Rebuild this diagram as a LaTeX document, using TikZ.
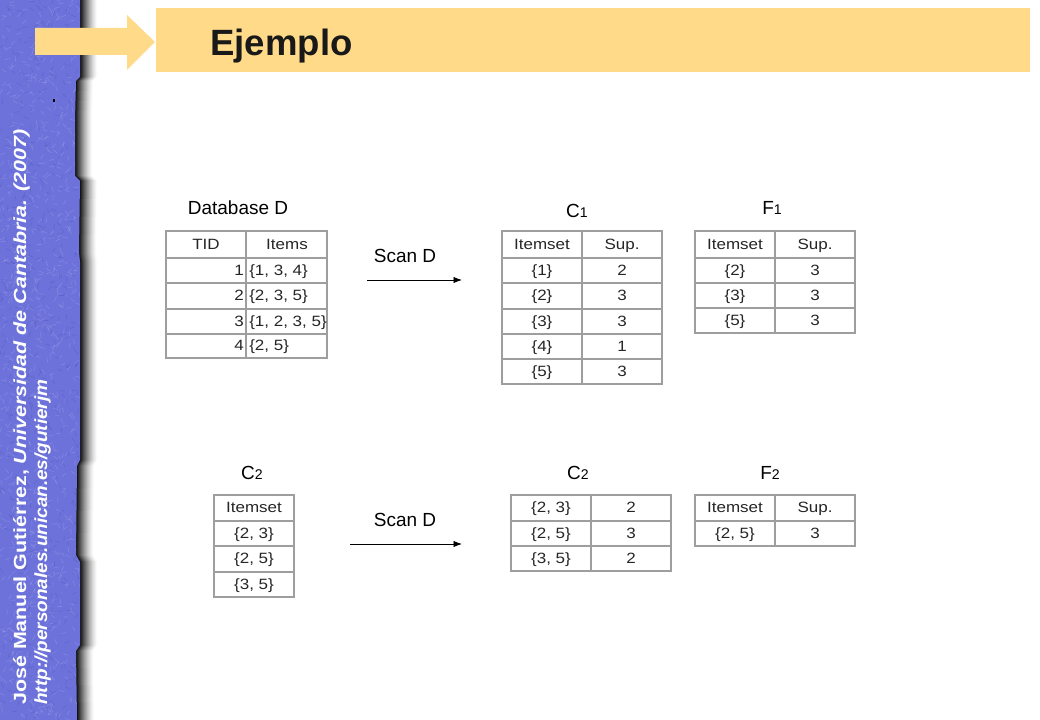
\documentclass[tikz,border=0pt]{standalone}
\usepackage{fontspec}
\usepackage{graphicx}
\setmainfont{Liberation Sans}
\newfontfamily\tblfont[FakeStretch=1.14]{Liberation Sans}
\usetikzlibrary{arrows.meta}
\definecolor{barblue}{RGB}{108,114,218}
\definecolor{titlebg}{RGB}{255,218,136}
\begin{document}
\begin{tikzpicture}[x=0.025cm,y=-0.025cm,
  lbl/.style={font=\fontsize{13.5}{16}\selectfont, inner sep=0pt},
  cell/.style={font=\tblfont\fontsize{10.6}{12}\selectfont, text=black!85, inner sep=0pt, anchor=base},
  grid/.style={draw=black!38, line width=0.9pt},
  scanarrow/.style={-{Latex[length=6pt,width=4.5pt]}, line width=0.6pt},
  sidetext/.style={text=white, rotate=90, anchor=base west, inner sep=0pt}]
\useasboundingbox (0,0) rectangle (1040,720);
\fill[white] (0,0) rectangle (1040,720);
\def\edgepath{(0,0) -- (80,0) -- (80,77) -- (76,81) -- (75,120) -- (75,176) -- (80,181) -- (79,252) -- (80,262) -- (80,460) -- (77,466) -- (76,555) -- (80,562) -- (80,645) -- (76,651) -- (77,720) -- (0,720) -- cycle}
% shadow
\foreach \k in {18,...,1}{
  \pgfmathsetmacro\p{100*(1-\k/18)^1.4}
  \begin{scope}[xshift={\k*0.025cm}]
    \fill[black!\p] \edgepath;
  \end{scope}
}
\fill[barblue] \edgepath;
% texture
\begin{scope}
  \clip \edgepath;
  \pgfmathsetseed{7}
  \foreach \i in {1,...,900}{
    \pgfmathsetmacro\xa{rnd*80}
    \pgfmathsetmacro\ya{rnd*720}
    \pgfmathsetmacro\an{rnd*360}
    \draw[white, opacity=0.14, line width=0.45pt] (\xa,\ya) -- ++(\an:5);
  }
  \foreach \i in {1,...,500}{
    \pgfmathsetmacro\xa{rnd*80}
    \pgfmathsetmacro\ya{rnd*720}
    \pgfmathsetmacro\an{rnd*360}
    \draw[blue!40!black, opacity=0.10, line width=0.45pt] (\xa,\ya) -- ++(\an:5);
  }
\end{scope}
\fill[black] (53,99) rectangle (55,102);
% side texts
\node[sidetext] (author) at (26,705) {\resizebox{14.375cm}{\height}{\fontsize{12.5}{14}\selectfont\bfseries Jos\'e Manuel Guti\'errez, \itshape Universidad de Cantabria. (2007)}};
\node[sidetext] (url) at (47,705) {\resizebox{8.125cm}{\height}{\fontsize{12.5}{14}\selectfont\bfseries\itshape http://personales.unican.es/gutierjm}};
% title
\fill[titlebg] (35,28) -- (127,28) -- (127,15) -- (155,42) -- (127,70) -- (127,55) -- (35,55) -- cycle;
\fill[titlebg] (156,8) rectangle (1030,72);
\node[anchor=base west, inner sep=0pt, font=\fontsize{26}{30}\selectfont\bfseries, text=black!90] (title) at (210,56) {Ejemplo};
% labels
\node[lbl] (lD) at (238,208) {Database D};
\node[lbl] (lC1) at (577,211) {C\raisebox{-0.5pt}{\fontsize{10}{12}\selectfont 1}};
\node[lbl] (lF1) at (772,208) {F\raisebox{-0.5pt}{\fontsize{10}{12}\selectfont 1}};
\node[lbl] (lC2a) at (252,473) {C\raisebox{-0.5pt}{\fontsize{10}{12}\selectfont 2}};
\node[lbl] (lC2b) at (578,473) {C\raisebox{-0.5pt}{\fontsize{10}{12}\selectfont 2}};
\node[lbl] (lF2) at (770,473) {F\raisebox{-0.5pt}{\fontsize{10}{12}\selectfont 2}};
\node[lbl] (scan1) at (405,256) {Scan D};
\node[lbl] (scan2) at (405,520) {Scan D};
\coordinate (a1s) at (367,280); \coordinate (a1e) at (462,280);
\coordinate (a2s) at (350,544); \coordinate (a2e) at (462,544);
\draw[scanarrow] (a1s) -- (a1e);
\draw[scanarrow] (a2s) -- (a2e);
% Database D table
\draw[grid] (166,231) rectangle (327,358);
\draw[grid] (246,231) -- (246,358);
\foreach \y in {258,283,309,334} \draw[grid] (166,\y) -- (327,\y);
\node[cell] (dh1) at (206,250) {TID};
\node[cell] (dh2) at (287,250) {Items};
\node[cell, anchor=base east] (dt1) at (244,276) {1};
\node[cell, anchor=base east] (dt2) at (244,301) {2};
\node[cell, anchor=base east] (dt3) at (244,327) {3};
\node[cell, anchor=base east] (dt4) at (244,351) {4};
\node[cell, anchor=base west] (di1) at (249,276) {\{1, 3, 4\}};
\node[cell, anchor=base west] (di2) at (249,301) {\{2, 3, 5\}};
\node[cell, anchor=base west] (di3) at (249,327) {\{1, 2, 3, 5\}};
\node[cell, anchor=base west] (di4) at (249,351) {\{2, 5\}};
% C1 table
\draw[grid] (502,231) rectangle (662,384);
\draw[grid] (582,231) -- (582,384);
\foreach \y in {258,283,309,334,359} \draw[grid] (502,\y) -- (662,\y);
\node[cell] (ch1) at (542,250) {Itemset};
\node[cell] (ch2) at (622,250) {Sup.};
\foreach \y/\s/\v [count=\n] in {276/1/2,301/2/3,327/3/3,352/4/1,377/5/3}{
  \node[cell] (cs\n) at (542,\y) {\{\s\}};
  \node[cell] (cv\n) at (622,\y) {\v};
}
% F1 table
\draw[grid] (695,231) rectangle (855,333);
\draw[grid] (775,231) -- (775,333);
\foreach \y in {258,283,308} \draw[grid] (695,\y) -- (855,\y);
\node[cell] (fh1) at (735,250) {Itemset};
\node[cell] (fh2) at (815,250) {Sup.};
\foreach \y/\s/\v [count=\n] in {276/2/3,301/3/3,326/5/3}{
  \node[cell] (fs\n) at (735,\y) {\{\s\}};
  \node[cell] (fv\n) at (815,\y) {\v};
}
% C2 left table
\draw[grid] (214,495) rectangle (294,597);
\foreach \y in {521,546,572} \draw[grid] (214,\y) -- (294,\y);
\node[cell] (gh1) at (254,513) {Itemset};
\node[cell] (gs1) at (254,539) {\{2, 3\}};
\node[cell] (gs2) at (254,564) {\{2, 5\}};
\node[cell] (gs3) at (254,590) {\{3, 5\}};
% C2 middle table
\draw[grid] (511,495) rectangle (671,571);
\draw[grid] (591,495) -- (591,571);
\foreach \y in {521,546} \draw[grid] (511,\y) -- (671,\y);
\node[cell] (hs1) at (551,513) {\{2, 3\}};
\node[cell] (hv1) at (631,513) {2};
\node[cell] (hs2) at (551,539) {\{2, 5\}};
\node[cell] (hv2) at (631,539) {3};
\node[cell] (hs3) at (551,564) {\{3, 5\}};
\node[cell] (hv3) at (631,564) {2};
% F2 table
\draw[grid] (695,495) rectangle (855,546);
\draw[grid] (775,495) -- (775,546);
\draw[grid] (695,521) -- (855,521);
\node[cell] (kh1) at (735,513) {Itemset};
\node[cell] (kh2) at (815,513) {Sup.};
\node[cell] (ks1) at (735,539) {\{2, 5\}};
\node[cell] (kv1) at (815,539) {3};
\end{tikzpicture}
\end{document}
